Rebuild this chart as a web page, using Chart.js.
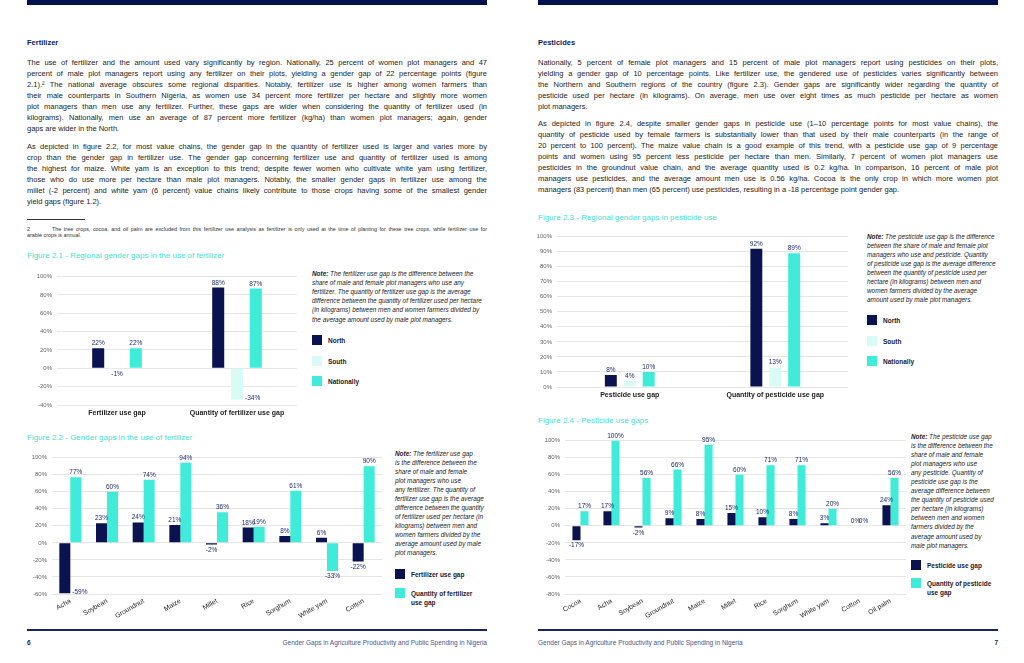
<!DOCTYPE html>
<html lang="en">
<head>
<meta charset="UTF-8">
<title>Gender gaps in fertilizer and pesticide use</title>
<script src="https://cdn.jsdelivr.net/npm/chart.js@4"></script>
<style>
  html, body { margin: 0; padding: 0; background: #fff; }
  body {
    width: 1024px; height: 663px; position: relative; overflow: hidden;
    font-family: 'Liberation Sans', Arial, sans-serif; color: #1d1d1d;
  }
  .band { position: absolute; top: 0; height: 5px; background: #00114d; }
  .rule { position: absolute; top: 629px; height: 1.5px; background: #1b2560; }
  .head { position: absolute; font-size: 7.5px; font-weight: bold; color: #0c1a5c; line-height: 10px; }
  .para { position: absolute; width: 460px; font-size: 7.5px; line-height: 11px; }
  .para div { text-align: justify; text-align-last: justify; }
  .para div.end { text-align-last: left; }
  .foot { position: absolute; font-size: 5.4px; line-height: 6px; color: #333; }
  .figtitle { position: absolute; font-size: 8px; color: #45e2d2; line-height: 10px; white-space: nowrap; }
  .note { position: absolute; font-size: 6.4px; font-style: italic; line-height: 9px; white-space: nowrap; color: #222; }
  .note b { font-weight: bold; }
  .chart { position: absolute; }
  .lg-box { position: absolute; width: 10px; height: 10px; }
  .lg-txt { position: absolute; font-size: 6.5px; font-weight: bold; line-height: 9px; color: #1a1a2e; }
  .pageno { position: absolute; top: 639px; font-size: 6.5px; font-weight: bold; color: #1b2560; line-height: 8px; }
  .runhead { position: absolute; top: 639px; font-size: 6.5px; color: #4a5488; line-height: 8px; white-space: nowrap; }
</style>
</head>
<body>

<div class="band" style="left:27px;width:460px"></div>
<div class="band" style="left:538px;width:460px"></div>

<!-- left page -->
<div class="head" style="left:27px;top:38px">Fertilizer</div>
<div class="para" style="left:27px;top:56.5px">
  <div>The use of fertilizer and the amount used vary significantly by region. Nationally, 25 percent of women plot managers and 47</div>
  <div>percent of male plot managers report using any fertilizer on their plots, yielding a gender gap of 22 percentage points (figure</div>
  <div>2.1).² The national average obscures some regional disparities. Notably, fertilizer use is higher among women farmers than</div>
  <div>their male counterparts in Southern Nigeria, as women use 34 percent more fertilizer per hectare and slightly more women</div>
  <div>plot managers than men use any fertilizer. Further, these gaps are wider when considering the quantity of fertilizer used (in</div>
  <div>kilograms). Nationally, men use an average of 87 percent more fertilizer (kg/ha) than women plot managers; again, gender</div>
  <div class="end">gaps are wider in the North.</div>
</div>
<div class="para" style="left:27px;top:140.5px">
  <div>As depicted in figure 2.2, for most value chains, the gender gap in the quantity of fertilizer used is larger and varies more by</div>
  <div>crop than the gender gap in fertilizer use. The gender gap concerning fertilizer use and quantity of fertilizer used is among</div>
  <div>the highest for maize. White yam is an exception to this trend; despite fewer women who cultivate white yam using fertilizer,</div>
  <div>those who do use more per hectare than male plot managers. Notably, the smaller gender gaps in fertilizer use among the</div>
  <div>millet (-2 percent) and white yam (6 percent) value chains likely contribute to those crops having some of the smallest gender</div>
  <div class="end">yield gaps (figure 1.2).</div>
</div>
<div style="position:absolute;left:27px;top:219px;width:58px;height:0.6px;background:#333"></div>
<div class="foot" style="left:27px;top:226px">2</div>
<div class="foot" style="left:52px;top:226px;width:435px;text-align:justify;text-align-last:justify">The tree crops, cocoa, and oil palm are excluded from this fertilizer use analysis as fertilizer is only used at the time of planting for these tree crops, while fertilizer use for</div>
<div class="foot" style="left:27px;top:232px">arable crops is annual.</div>

<div class="figtitle" style="left:27px;top:251px">Figure 2.1 - Regional gender gaps in the use of fertilizer</div>
<div class="chart" style="left:27px;top:268px;width:270px;height:152px"><canvas id="fig21"></canvas></div>
<div class="note" style="left:312px;top:268.5px;line-height:9.2px"><b>Note:</b> The fertilizer use gap is the difference between the<br>share of male and female plot managers who use any<br>fertilizer. The quantity of fertilizer use gap is the average<br>difference between the quantity of fertilizer used per hectare<br>(in kilograms) between men and women farmers divided by<br>the average amount used by male plot managers.</div>

<div class="figtitle" style="left:27px;top:433px">Figure 2.2 - Gender gaps in the use of fertilizer</div>
<div class="chart" style="left:27px;top:449px;width:355px;height:171px"><canvas id="fig22"></canvas></div>
<div class="note" style="left:395px;top:448.5px"><b>Note:</b> The fertilizer use gap<br>is the difference between the<br>share of male and female<br>plot managers who use<br>any fertilizer. The quantity of<br>fertilizer use gap is the average<br>difference between the quantity<br>of fertilizer used per hectare (in<br>kilograms) between men and<br>women farmers divided by the<br>average amount used by male<br>plot managers.</div>

<div class="rule" style="left:27px;width:460px"></div>
<div class="pageno" style="left:27px">6</div>
<div class="runhead" style="right:537px">Gender Gaps in Agriculture Productivity and Public Spending in Nigeria</div>

<!-- right page -->
<div class="head" style="left:538px;top:38px">Pesticides</div>
<div class="para" style="left:538px;top:56.5px">
  <div>Nationally, 5 percent of female plot managers and 15 percent of male plot managers report using pesticides on their plots,</div>
  <div>yielding a gender gap of 10 percentage points. Like fertilizer use, the gendered use of pesticides varies significantly between</div>
  <div>the Northern and Southern regions of the country (figure 2.3). Gender gaps are significantly wider regarding the quantity of</div>
  <div>pesticide used per hectare (in kilograms). On average, men use over eight times as much pesticide per hectare as women</div>
  <div class="end">plot managers.</div>
</div>
<div class="para" style="left:538px;top:117.5px">
  <div>As depicted in figure 2.4, despite smaller gender gaps in pesticide use (1–10 percentage points for most value chains), the</div>
  <div>quantity of pesticide used by female farmers is substantially lower than that used by their male counterparts (in the range of</div>
  <div>20 percent to 100 percent). The maize value chain is a good example of this trend, with a pesticide use gap of 9 percentage</div>
  <div>points and women using 95 percent less pesticide per hectare than men. Similarly, 7 percent of women plot managers use</div>
  <div>pesticides in the groundnut value chain, and the average quantity used is 0.2 kg/ha. In comparison, 16 percent of male plot</div>
  <div>managers use pesticides, and the average amount men use is 0.56 kg/ha. Cocoa is the only crop in which more women plot</div>
  <div class="end">managers (83 percent) than men (65 percent) use pesticides, resulting in a -18 percentage point gender gap.</div>
</div>

<div class="figtitle" style="left:538px;top:213px">Figure 2.3 - Regional gender gaps in pesticide use</div>
<div class="chart" style="left:534px;top:228px;width:314px;height:174px"><canvas id="fig23"></canvas></div>
<div class="note" style="left:867px;top:231.5px"><b>Note:</b> The pesticide use gap is the difference<br>between the share of male and female plot<br>managers who use and pesticide. Quantity<br>of pesticide use gap is the average difference<br>between the quantity of pesticide used per<br>hectare (in kilograms) between men and<br>women farmers divided by the average<br>amount used by male plot managers.</div>

<div class="figtitle" style="left:538px;top:416px">Figure 2.4 - Pesticide use gaps</div>
<div class="chart" style="left:537px;top:432px;width:369px;height:188px"><canvas id="fig24"></canvas></div>
<div class="note" style="left:911px;top:431.5px;line-height:9.1px"><b>Note:</b> The pesticide use gap<br>is the difference between the<br>share of male and female<br>plot managers who use<br>any pesticide. Quantity of<br>pesticide use gap is the<br>average difference between<br>the quantity of pesticide used<br>per hectare (in kilograms)<br>between men and women<br>farmers divided by the<br>average amount used by<br>male plot managers.</div>

<div class="rule" style="left:538px;width:460px"></div>
<div class="runhead" style="left:538px">Gender Gaps in Agriculture Productivity and Public Spending in Nigeria</div>
<div class="pageno" style="right:26px">7</div>

<script>
// Figure 2.1 - regional gaps in fertilizer use
const fig21Categories = ['Fertilizer use gap', 'Quantity of fertilizer use gap'];
const fig21North = [22, 88];
const fig21South = [-1, -34];
const fig21National = [22, 87];
const fig21Axis = [-40, 100, 20]; // min, max, step

// Figure 2.2 - fertilizer gaps by crop
const fig22Crops = ['Acha', 'Soybean', 'Groundnut', 'Maize', 'Millet', 'Rice', 'Sorghum', 'White yam', 'Cotton'];
const fig22UseGap = [-59, 23, 24, 21, -2, 18, 8, 6, -22];
const fig22QuantityGap = [77, 60, 74, 94, 36, 19, 61, -33, 90];
const fig22Axis = [-60, 100, 20];

// Figure 2.3 - regional gaps in pesticide use
const fig23Categories = ['Pesticide use gap', 'Quantity of pesticide use gap'];
const fig23North = [8, 92];
const fig23South = [4, 13];
const fig23National = [10, 89];
const fig23Axis = [0, 100, 10];

// Figure 2.4 - pesticide gaps by crop
const fig24Crops = ['Cocoa', 'Acha', 'Soybean', 'Groundnut', 'Maize', 'Millet', 'Rice', 'Sorghum', 'White yam', 'Cotton', 'Oil palm'];
const fig24UseGap = [-17, 17, -2, 9, 8, 15, 10, 8, 3, 0, 24];
const fig24QuantityGap = [17, 100, 56, 66, 95, 60, 71, 71, 20, 0, 56];
const fig24Axis = [-80, 100, 20];

const NAVY = '#0a1350';
const TURQ = '#3eecd9';
const PALE = '#d9fbf6';
const LABEL = '#1f2c6c';
const FONT = "'Liberation Sans', Arial, sans-serif";

Chart.defaults.font.family = FONT;

// value labels above (or below) each bar
const barLabels = {
  id: 'barLabels',
  afterDatasetsDraw(chart) {
    const { ctx, chartArea } = chart;
    ctx.save();
    ctx.font = '6.5px ' + FONT;
    ctx.fillStyle = LABEL;
    chart.data.datasets.forEach((ds, i) => {
      chart.getDatasetMeta(i).data.forEach((bar, j) => {
        const v = ds.data[j];
        let x = bar.x, y = bar.y;
        ctx.textAlign = 'center';
        if (v >= 0) {
          ctx.textBaseline = 'bottom';
          y -= 1.5;
        } else {
          ctx.textBaseline = 'top';
          y += 2;
          if (y + 7 > chartArea.bottom) {
            // no room under the bar: put it beside
            ctx.textAlign = 'left';
            ctx.textBaseline = 'middle';
            x += bar.width / 2 + 2;
            y = bar.y - 1;
          }
        }
        ctx.fillText(v + '%', x, y);
      });
    });
    ctx.restore();
  }
};

function makeChart (id, labels, datasets, axis, o) {
  return new Chart(document.getElementById(id), {
    type: 'bar',
    data: { labels: labels, datasets: datasets.map(d => ({
      label: d.label,
      data: d.data,
      backgroundColor: d.color,
      borderWidth: 0,
      categoryPercentage: o.catPct,
      barPercentage: o.barPct
    })) },
    options: {
      responsive: true,
      maintainAspectRatio: false,
      animation: false,
      layout: { padding: { top: 5, right: 0, bottom: 0, left: 0 } },
      plugins: { legend: { display: false }, tooltip: { enabled: false } },
      scales: {
        x: {
          grid: { display: false, drawTicks: false },
          border: { display: false },
          ticks: {
            autoSkip: false,
            color: '#222',
            font: o.rotated ? { size: 6.8 } : { size: 7, weight: 'bold' },
            maxRotation: o.rotated ? 30 : 0,
            minRotation: o.rotated ? 30 : 0,
            padding: o.rotated ? 3 : 4
          },
          afterFit: s => { s.height = o.xHeight; }
        },
        y: {
          min: axis[0],
          max: axis[1],
          ticks: { stepSize: axis[2], callback: v => v + '%', color: '#666', font: { size: 6 }, padding: 5 },
          grid: { color: '#e6e6e6', drawTicks: false },
          border: { display: false },
          afterFit: s => { s.width = o.yWidth; }
        }
      }
    },
    plugins: [barLabels]
  });
}

function makeLegend (left, tops, items, width) {
  items.forEach((it, i) => {
    const box = document.createElement('div');
    box.className = 'lg-box';
    box.style.left = left + 'px';
    box.style.top = tops[i] + 'px';
    box.style.background = it.color;
    document.body.appendChild(box);
    const txt = document.createElement('div');
    txt.className = 'lg-txt';
    txt.style.left = (left + 16) + 'px';
    txt.style.top = (tops[i] + 0.5) + 'px';
    txt.style.width = width + 'px';
    txt.textContent = it.label;
    document.body.appendChild(txt);
  });
}

const fig21Sets = [
  { label: 'North', data: fig21North, color: NAVY },
  { label: 'South', data: fig21South, color: PALE },
  { label: 'Nationally', data: fig21National, color: TURQ }
];
makeChart('fig21', fig21Categories, fig21Sets, fig21Axis,
  { catPct: 0.47, barPct: 0.64, rotated: false, yWidth: 30, xHeight: 15 });
makeLegend(312, [335, 356, 376], fig21Sets, 80);

const fig22Sets = [
  { label: 'Fertilizer use gap', data: fig22UseGap, color: NAVY },
  { label: 'Quantity of fertilizer use gap', data: fig22QuantityGap, color: TURQ }
];
makeChart('fig22', fig22Crops, fig22Sets, fig22Axis,
  { catPct: 0.6, barPct: 1.0, rotated: true, yWidth: 25, xHeight: 26 });
makeLegend(395, [569, 588], fig22Sets, 72);

const fig23Sets = [
  { label: 'North', data: fig23North, color: NAVY },
  { label: 'South', data: fig23South, color: PALE },
  { label: 'Nationally', data: fig23National, color: TURQ }
];
makeChart('fig23', fig23Categories, fig23Sets, fig23Axis,
  { catPct: 0.39, barPct: 0.63, rotated: false, yWidth: 23, xHeight: 15 });
makeLegend(867, [315, 336, 356], fig23Sets, 80);

const fig24Sets = [
  { label: 'Pesticide use gap', data: fig24UseGap, color: NAVY },
  { label: 'Quantity of pesticide use gap', data: fig24QuantityGap, color: TURQ }
];
makeChart('fig24', fig24Crops, fig24Sets, fig24Axis,
  { catPct: 0.52, barPct: 1.0, rotated: true, yWidth: 28, xHeight: 26 });
makeLegend(911, [560, 578], fig24Sets, 70);
</script>
</body>
</html>
